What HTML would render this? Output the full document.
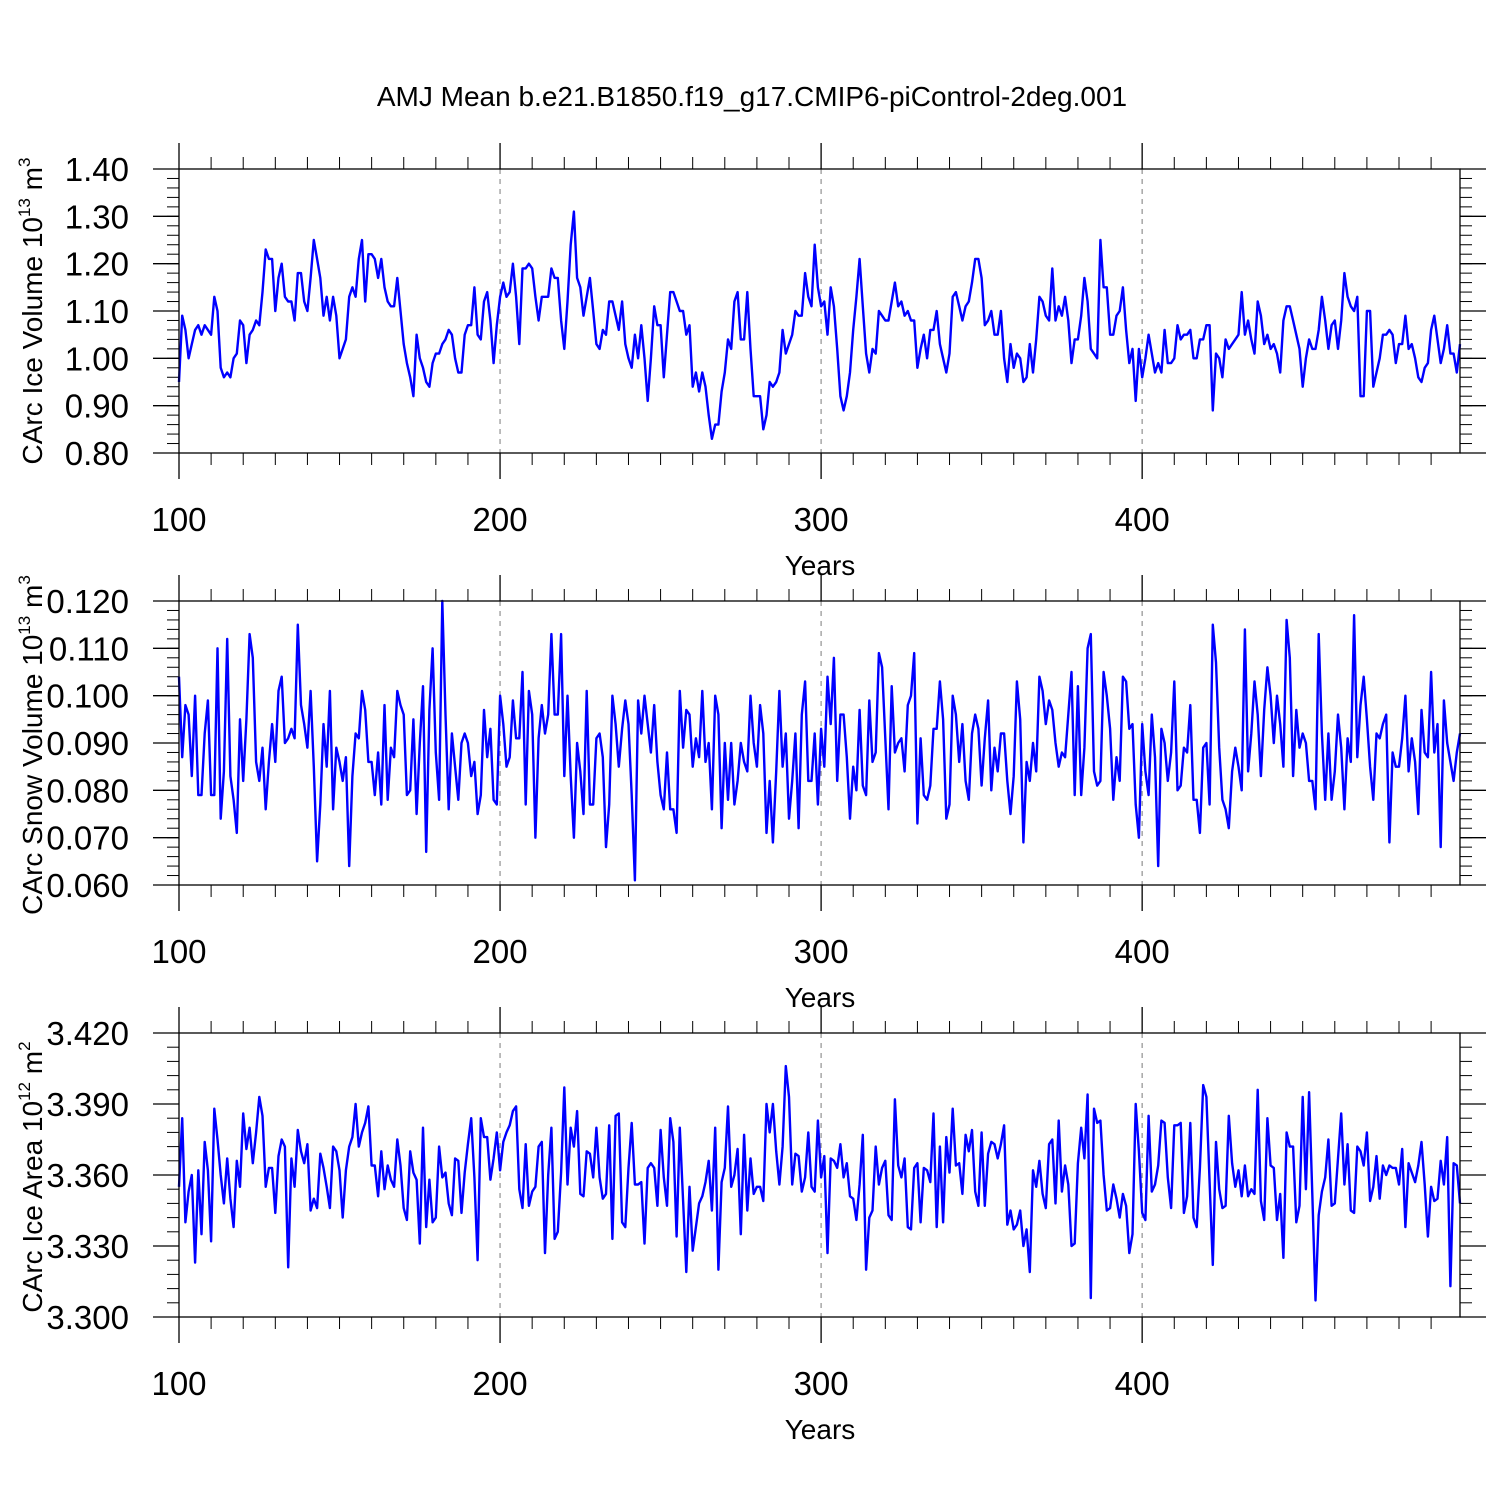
<!DOCTYPE html>
<html><head><meta charset="utf-8"><style>
html,body{margin:0;padding:0;background:#fff;}
svg{display:block;font-family:"Liberation Sans",sans-serif;}
</style></head><body>
<svg id="chart" width="1500" height="1500" viewBox="0 0 1500 1500" xmlns="http://www.w3.org/2000/svg">
<rect width="1500" height="1500" fill="#fff"/>
<text x="752" y="106" font-size="28" text-anchor="middle">AMJ Mean b.e21.B1850.f19_g17.CMIP6-piControl-2deg.001</text>
</svg>
<script>
const years = Array.from({length:400},(_, i)=>100+i);
const xTickLabels = ["100","200","300","400"];
const iceVolume = [0.95,1.09,1.06,1.00,1.03,1.06,1.07,1.05,1.07,1.06,
1.05,1.13,1.10,0.98,0.96,0.97,0.96,1.00,1.01,1.08,
1.07,0.99,1.05,1.06,1.08,1.07,1.14,1.23,1.21,1.21,
1.10,1.17,1.20,1.13,1.12,1.12,1.08,1.18,1.18,1.12,
1.10,1.17,1.25,1.21,1.17,1.09,1.13,1.08,1.13,1.09,
1.00,1.02,1.04,1.13,1.15,1.13,1.21,1.25,1.12,1.22,
1.22,1.21,1.17,1.21,1.15,1.12,1.11,1.11,1.17,1.10,
1.03,0.99,0.96,0.92,1.05,1.00,0.98,0.95,0.94,0.99,
1.01,1.01,1.03,1.04,1.06,1.05,1.00,0.97,0.97,1.05,
1.07,1.07,1.15,1.05,1.04,1.12,1.14,1.08,0.99,1.07,
1.13,1.16,1.13,1.14,1.20,1.13,1.03,1.19,1.19,1.20,
1.19,1.13,1.08,1.13,1.13,1.13,1.19,1.17,1.17,1.08,
1.02,1.12,1.24,1.31,1.17,1.15,1.09,1.13,1.17,1.10,
1.03,1.02,1.06,1.05,1.12,1.12,1.09,1.06,1.12,1.03,
1.00,0.98,1.05,1.00,1.07,1.00,0.91,1.00,1.11,1.07,
1.07,0.96,1.05,1.14,1.14,1.12,1.10,1.10,1.05,1.07,
0.94,0.97,0.93,0.97,0.94,0.88,0.83,0.86,0.86,0.93,
0.97,1.04,1.02,1.12,1.14,1.04,1.04,1.14,1.02,0.92,
0.92,0.92,0.85,0.88,0.95,0.94,0.95,0.97,1.06,1.01,
1.03,1.05,1.10,1.09,1.09,1.18,1.13,1.11,1.24,1.15,
1.11,1.12,1.05,1.15,1.11,1.02,0.92,0.89,0.92,0.97,
1.06,1.13,1.21,1.11,1.01,0.97,1.02,1.01,1.10,1.09,
1.08,1.08,1.12,1.16,1.11,1.12,1.09,1.10,1.08,1.08,
0.98,1.02,1.05,1.00,1.06,1.06,1.10,1.03,1.00,0.97,
1.01,1.13,1.14,1.11,1.08,1.11,1.12,1.16,1.21,1.21,
1.17,1.07,1.08,1.10,1.05,1.05,1.10,1.00,0.95,1.03,
0.98,1.01,1.00,0.95,0.96,1.03,0.97,1.04,1.13,1.12,
1.09,1.08,1.19,1.08,1.11,1.09,1.13,1.08,0.99,1.04,
1.04,1.09,1.17,1.12,1.02,1.01,1.00,1.25,1.15,1.15,
1.05,1.05,1.09,1.10,1.15,1.06,0.99,1.02,0.91,1.02,
0.96,1.00,1.05,1.01,0.97,0.99,0.97,1.06,0.99,0.99,
1.00,1.07,1.04,1.05,1.05,1.06,1.00,1.00,1.04,1.04,
1.07,1.07,0.89,1.01,1.00,0.96,1.04,1.02,1.03,1.04,
1.05,1.14,1.05,1.08,1.04,1.01,1.12,1.09,1.03,1.05,
1.02,1.03,1.01,0.97,1.08,1.11,1.11,1.08,1.05,1.02,
0.94,1.00,1.04,1.02,1.02,1.06,1.13,1.08,1.02,1.07,
1.08,1.02,1.08,1.18,1.13,1.11,1.10,1.13,0.92,0.92,
1.10,1.10,0.94,0.97,1.00,1.05,1.05,1.06,1.05,0.99,
1.03,1.03,1.09,1.02,1.03,1.00,0.96,0.95,0.98,0.99,
1.06,1.09,1.04,0.99,1.02,1.07,1.01,1.01,0.97,1.03];
const snowVolume = [0.104,0.087,0.098,0.096,0.083,0.100,0.079,0.079,0.092,0.099,
0.079,0.079,0.110,0.074,0.084,0.112,0.083,0.078,0.071,0.095,
0.082,0.095,0.113,0.108,0.086,0.082,0.089,0.076,0.086,0.094,
0.086,0.101,0.104,0.090,0.091,0.093,0.091,0.115,0.098,0.094,
0.089,0.101,0.085,0.065,0.077,0.094,0.085,0.101,0.076,0.089,
0.086,0.082,0.087,0.064,0.083,0.092,0.091,0.101,0.097,0.086,
0.086,0.079,0.088,0.077,0.098,0.078,0.089,0.087,0.101,0.098,
0.096,0.079,0.080,0.095,0.075,0.090,0.102,0.067,0.097,0.110,
0.088,0.078,0.120,0.096,0.076,0.092,0.085,0.078,0.090,0.092,
0.090,0.083,0.086,0.075,0.079,0.097,0.087,0.093,0.078,0.077,
0.100,0.094,0.085,0.087,0.099,0.091,0.091,0.105,0.077,0.101,
0.096,0.070,0.091,0.098,0.092,0.096,0.113,0.096,0.096,0.113,
0.083,0.100,0.083,0.070,0.090,0.084,0.075,0.101,0.077,0.077,
0.091,0.092,0.087,0.068,0.077,0.100,0.094,0.085,0.093,0.099,
0.094,0.079,0.061,0.099,0.092,0.100,0.094,0.088,0.098,0.086,
0.079,0.076,0.088,0.076,0.076,0.071,0.101,0.089,0.097,0.096,
0.085,0.091,0.087,0.101,0.086,0.090,0.076,0.100,0.096,0.072,
0.090,0.078,0.090,0.077,0.082,0.090,0.086,0.084,0.100,0.090,
0.085,0.098,0.092,0.071,0.082,0.069,0.084,0.101,0.085,0.092,
0.074,0.082,0.092,0.072,0.096,0.103,0.082,0.082,0.092,0.077,
0.093,0.085,0.104,0.094,0.108,0.082,0.096,0.096,0.087,0.074,
0.085,0.080,0.097,0.081,0.079,0.099,0.086,0.088,0.109,0.106,
0.091,0.076,0.102,0.088,0.090,0.091,0.084,0.098,0.100,0.109,
0.073,0.091,0.079,0.078,0.081,0.093,0.093,0.103,0.095,0.074,
0.077,0.100,0.096,0.086,0.094,0.082,0.078,0.092,0.096,0.093,
0.081,0.091,0.099,0.080,0.089,0.084,0.092,0.092,0.082,0.075,
0.083,0.103,0.095,0.069,0.086,0.082,0.090,0.084,0.104,0.101,
0.094,0.099,0.097,0.090,0.085,0.088,0.087,0.096,0.105,0.079,
0.102,0.079,0.089,0.110,0.113,0.084,0.081,0.082,0.105,0.100,
0.093,0.078,0.087,0.082,0.104,0.103,0.093,0.094,0.077,0.070,
0.094,0.084,0.079,0.096,0.087,0.064,0.093,0.090,0.082,0.088,
0.103,0.080,0.081,0.089,0.088,0.098,0.078,0.078,0.071,0.089,
0.090,0.077,0.115,0.107,0.089,0.078,0.076,0.072,0.084,0.089,
0.085,0.080,0.114,0.084,0.092,0.103,0.096,0.083,0.097,0.106,
0.100,0.090,0.100,0.094,0.085,0.116,0.108,0.083,0.097,0.089,
0.092,0.090,0.082,0.082,0.076,0.113,0.092,0.078,0.092,0.078,
0.084,0.096,0.089,0.076,0.091,0.086,0.117,0.087,0.098,0.104,
0.095,0.085,0.078,0.092,0.091,0.094,0.096,0.069,0.088,0.085,
0.085,0.091,0.100,0.084,0.091,0.086,0.075,0.097,0.088,0.087,
0.105,0.088,0.094,0.068,0.099,0.090,0.086,0.082,0.088,0.092];
const iceArea = [3.355,3.384,3.340,3.353,3.360,3.323,3.362,3.335,3.374,3.362,
3.332,3.388,3.375,3.360,3.348,3.367,3.350,3.338,3.366,3.355,
3.386,3.371,3.380,3.365,3.378,3.393,3.385,3.355,3.363,3.363,
3.344,3.368,3.375,3.372,3.321,3.367,3.355,3.379,3.370,3.365,
3.373,3.345,3.350,3.346,3.369,3.363,3.355,3.346,3.372,3.370,
3.362,3.342,3.362,3.372,3.376,3.390,3.372,3.378,3.382,3.389,
3.364,3.364,3.351,3.370,3.354,3.364,3.358,3.355,3.375,3.364,
3.346,3.341,3.370,3.361,3.358,3.331,3.380,3.338,3.358,3.340,
3.342,3.372,3.359,3.361,3.348,3.343,3.367,3.366,3.344,3.361,
3.373,3.384,3.359,3.324,3.384,3.376,3.376,3.358,3.367,3.378,
3.362,3.374,3.378,3.381,3.387,3.389,3.354,3.346,3.373,3.347,
3.353,3.355,3.372,3.374,3.327,3.360,3.380,3.333,3.336,3.361,
3.397,3.356,3.380,3.372,3.387,3.352,3.351,3.370,3.369,3.359,
3.380,3.359,3.350,3.352,3.381,3.333,3.385,3.386,3.340,3.338,
3.363,3.382,3.356,3.356,3.357,3.331,3.363,3.365,3.363,3.347,
3.379,3.359,3.347,3.384,3.374,3.334,3.380,3.349,3.319,3.355,
3.328,3.338,3.348,3.351,3.357,3.366,3.345,3.380,3.320,3.357,
3.363,3.389,3.355,3.360,3.371,3.335,3.377,3.345,3.367,3.352,
3.355,3.355,3.349,3.390,3.378,3.390,3.370,3.356,3.372,3.406,
3.393,3.356,3.369,3.368,3.353,3.359,3.378,3.355,3.353,3.383,
3.359,3.368,3.327,3.367,3.366,3.363,3.373,3.359,3.365,3.351,
3.350,3.341,3.356,3.377,3.320,3.342,3.345,3.372,3.356,3.363,
3.366,3.343,3.341,3.392,3.364,3.359,3.367,3.338,3.337,3.363,
3.365,3.340,3.363,3.362,3.357,3.386,3.338,3.372,3.340,3.376,
3.361,3.388,3.364,3.365,3.352,3.377,3.370,3.379,3.353,3.347,
3.378,3.347,3.369,3.374,3.373,3.367,3.373,3.381,3.339,3.345,
3.337,3.339,3.345,3.330,3.337,3.319,3.362,3.355,3.366,3.352,
3.346,3.373,3.375,3.348,3.383,3.353,3.364,3.356,3.330,3.331,
3.365,3.380,3.367,3.394,3.308,3.388,3.382,3.383,3.360,3.345,
3.346,3.356,3.350,3.342,3.352,3.347,3.327,3.335,3.390,3.370,
3.344,3.341,3.385,3.353,3.356,3.364,3.383,3.382,3.359,3.346,
3.381,3.381,3.382,3.344,3.351,3.382,3.342,3.338,3.363,3.398,
3.393,3.357,3.322,3.374,3.354,3.346,3.347,3.385,3.365,3.355,
3.362,3.351,3.364,3.351,3.354,3.352,3.396,3.349,3.341,3.384,
3.364,3.363,3.341,3.352,3.325,3.378,3.372,3.372,3.340,3.347,
3.393,3.354,3.395,3.352,3.307,3.343,3.353,3.359,3.375,3.347,
3.348,3.367,3.386,3.356,3.373,3.345,3.344,3.372,3.370,3.364,
3.378,3.349,3.355,3.368,3.350,3.364,3.360,3.364,3.363,3.363,
3.356,3.371,3.338,3.365,3.361,3.357,3.364,3.374,3.356,3.334,
3.355,3.349,3.350,3.366,3.356,3.376,3.313,3.365,3.364,3.348];
const iceVolTicks = ["0.80","0.90","1.00","1.10","1.20","1.30","1.40"];
const snowTicks = ["0.060","0.070","0.080","0.090","0.100","0.110","0.120"];
const areaTicks = ["3.300","3.330","3.360","3.390","3.420"];

const NS="http://www.w3.org/2000/svg";
const svg=document.getElementById('chart');
function mk(tag,attrs,parent){const e=document.createElementNS(NS,tag);for(const k in attrs)e.setAttribute(k,attrs[k]);(parent||svg).appendChild(e);return e;}
const X0=179,X1=1460,XMIN=100,XMAX=499;
function xs(v){return X0+(v-XMIN)*(X1-X0)/(XMAX-XMIN);}

function panel(key,top,bot,ticks,vals,minorStep,ytitle,sup,unitSup,titleY){
  const g=mk('g',{});
  
  
  const ymin=parseFloat(ticks[0]),ymax=parseFloat(ticks[ticks.length-1]);
  const ys=v=>bot-(v-ymin)*(bot-top)/(ymax-ymin);
  // gridlines
  xTickLabels.forEach(t=>{const v=+t;if(v>XMIN){const l=mk('line',{x1:xs(v),x2:xs(v),y1:top,y2:bot,stroke:'#999','stroke-width':1.3,'stroke-dasharray':'5,5'},g);
    
    }});
  // minor x ticks
  for(let v=XMIN;v<=XMAX;v+=10){if(v%100===0)continue;
    mk('line',{x1:xs(v),x2:xs(v),y1:top-12,y2:top,stroke:'#000','stroke-width':1},g);
    mk('line',{x1:xs(v),x2:xs(v),y1:bot,y2:bot+12,stroke:'#000','stroke-width':1},g);}
  // major x ticks + labels
  xTickLabels.forEach(t=>{const x=xs(+t);
    mk('line',{x1:x,x2:x,y1:top-26,y2:top,stroke:'#000','stroke-width':1.3},g);
    mk('line',{x1:x,x2:x,y1:bot,y2:bot+26,stroke:'#000','stroke-width':1.3},g);
    const tx=mk('text',{x:x,y:bot+78,'font-size':33,'text-anchor':'middle'},g);tx.textContent=t;
    
    });
  // minor y ticks
  for(let v=ymin;v<=ymax+1e-9;v+=minorStep){const y=ys(v);
    mk('line',{x1:X0-12,x2:X0,y1:y,y2:y,stroke:'#000','stroke-width':1},g);
    mk('line',{x1:X1,x2:X1+12,y1:y,y2:y,stroke:'#000','stroke-width':1},g);}
  ticks.forEach(t=>{const y=ys(+t);
    mk('line',{x1:X0-26,x2:X0,y1:y,y2:y,stroke:'#000','stroke-width':1.3},g);
    mk('line',{x1:X1,x2:X1+26,y1:y,y2:y,stroke:'#000','stroke-width':1.3},g);
    const tx=mk('text',{x:129,y:y+12,'font-size':33,'text-anchor':'end'},g);tx.textContent=t;
    
    });
  // series
  const pts=vals.map((v,i)=>xs(years[i]).toFixed(1)+','+ys(v).toFixed(1)).join(' ');
  const pl=mk('polyline',{points:pts,fill:'none',stroke:'#0000ff','stroke-width':2.4,'stroke-linejoin':'round'},g);
  
  
  // frame
  const fr=mk('rect',{x:X0,y:top,width:X1-X0,height:bot-top,fill:'none',stroke:'#000','stroke-width':1.3},g);
  
  
  // x title
  const xt=mk('text',{x:820,y:bot+122,'font-size':28,'text-anchor':'middle'},g);xt.textContent='Years';
  
  
  // y title
  const yt=mk('text',{transform:`translate(42,${titleY}) rotate(-90)`,'font-size':28,'text-anchor':'middle'},g);
  
  
  yt.appendChild(document.createTextNode(ytitle+' 10'));
  const s1=mk('tspan',{dy:-12,'font-size':17},yt);s1.textContent=sup;
  const s2=mk('tspan',{dy:12},yt);s2.textContent=' m';
  const s3=mk('tspan',{dy:-12,'font-size':17},yt);s3.textContent=unitSup;
}
panel('ice-volume',169,453,iceVolTicks,iceVolume,0.02,'CArc Ice Volume','13','3',311);
panel('snow-volume',601,885,snowTicks,snowVolume,0.002,'CArc Snow Volume','13','3',745);
panel('ice-area',1033,1317,areaTicks,iceArea,0.006,'CArc Ice Area','12','2',1177);
</script>
</body></html>
